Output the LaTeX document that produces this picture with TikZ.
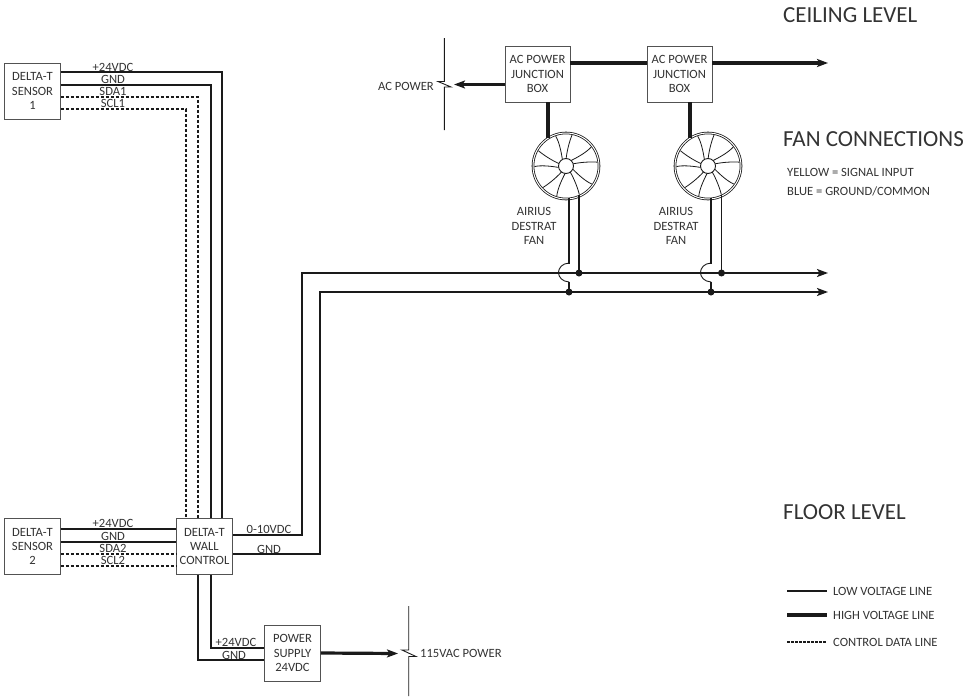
\documentclass[tikz,border=0pt]{standalone}
\usepackage{fontspec}
\setmainfont{Carlito}
\usetikzlibrary{arrows.meta,calc}
\definecolor{ink}{HTML}{1A1A1A}
\definecolor{txt}{HTML}{333333}
\tikzset{
 boxn/.style={draw=txt!85,line width=0.9pt,fill=white,minimum width=#1,minimum height=56pt,inner sep=0pt,align=center,text=txt,font=\fontsize{12.6}{14.4}\selectfont},
 lowl/.style={draw=ink,line width=1.9pt},
 highl/.style={draw=ink,line width=3.2pt},
 datal/.style={draw=ink,line width=1.9pt,dash pattern=on 3pt off 2pt},
 thinl/.style={draw=ink,line width=0.9pt},
 tip/.style={-{Stealth[length=11pt,width=8pt,inset=2.5pt]}},
 lbl/.style={inner sep=0pt,text=txt,font=\fontsize{12.6}{14.4}\selectfont,align=center},
 small/.style={inner sep=0pt,text=txt,anchor=west,font=\fontsize{12.6}{14}\selectfont},
 head/.style={inner sep=0pt,text=txt,anchor=west,font=\fontsize{23}{25}\selectfont},
 dotn/.style={circle,fill=ink,inner sep=0pt,minimum size=7pt},
 fanring/.style={circle,draw=ink,line width=0.8pt,double=white,double distance=1pt,fill=white,minimum size=66pt,inner sep=0pt},
 hubn/.style={circle,draw=ink,line width=0.9pt,fill=white,minimum size=15pt,inner sep=0pt},
}
\newcommand{\fanblades}[1]{%
 \foreach \a in {22,94,166,238,310}{%
  \draw[ink,line width=0.8pt] ($(#1)+(\a+25:7.5pt)$) .. controls ($(#1)+(\a+14:16pt)$) and ($(#1)+(\a+12:25pt)$) .. ($(#1)+(\a+15:31.5pt)$);
  \draw[ink,line width=0.8pt] ($(#1)+(\a-5:7.5pt)$) .. controls ($(#1)+(\a-8:16pt)$) and ($(#1)+(\a-12:25pt)$) .. ($(#1)+(\a-15:31.5pt)$);
 }}
\begin{document}
\begin{tikzpicture}[x=1pt,y=-1pt]
\useasboundingbox (0,0) rectangle (976,696);
% boxes
\node[boxn=56pt] (s1) at (32.5,91) {DELTA-T\\SENSOR\\1};
\node[boxn=56pt] (s2) at (32.5,546.5) {DELTA-T\\SENSOR\\2};
\node[boxn=56pt] (wall) at (204.5,546.5) {DELTA-T\\WALL\\CONTROL};
\node[boxn=56pt] (psu) at (292.5,653) {POWER\\SUPPLY\\24VDC};
\node[boxn=65pt] (jb1) at (537.5,74) {AC POWER\\JUNCTION\\BOX};
\node[boxn=65pt] (jb2) at (679.5,74) {AC POWER\\JUNCTION\\BOX};
% fans
\node[fanring] (f1) at (566,166) {};
\fanblades{f1}
\node[hubn] (h1) at (f1) {};
\node[fanring] (f2) at (708,166) {};
\fanblades{f2}
\node[hubn] (h2) at (f2) {};
% free ends
\coordinate (e1) at (828,63);
\coordinate (e2) at (828,273);
\coordinate (e3) at (828,292);
\coordinate (acbr) at (454,84.5);
\coordinate (psbr) at (398,653.5);
\coordinate (d1a) at (579,273);
\coordinate (d1b) at (569,292);
\coordinate (d2a) at (721.5,273);
\coordinate (d2b) at (711,292);
% sensor 1 runs
\draw[lowl] (s1.east|-0,72) -| (wall.north-|222,0);
\draw[lowl] (s1.east|-0,85) -| (wall.north-|211,0);
\draw[datal] (s1.east|-0,97) -| (wall.north-|198,0);
\draw[datal] (s1.east|-0,109) -| (wall.north-|186,0);
% sensor 2 runs
\draw[lowl] (s2.east|-0,529) -- (wall.west|-0,529);
\draw[lowl] (s2.east|-0,542) -- (wall.west|-0,542);
\draw[datal] (s2.east|-0,554) -- (wall.west|-0,554);
\draw[datal] (s2.east|-0,566) -- (wall.west|-0,566);
% signal buses
\draw[lowl,tip] (wall.east|-0,535) -| (302,273) -- (e2);
\draw[lowl,tip] (wall.east|-0,554) -| (320,292) -- (e3);
% power supply
\draw[lowl] (wall.south-|198,0) |- (psu.west|-0,660);
\draw[lowl] (wall.south-|211,0) |- (psu.west|-0,648);
\draw[highl,tip] (psu.east) -- (psbr);
% AC
\draw[highl] (jb1.east|-0,63) -- (jb2.west|-0,63);
\draw[highl,tip] (jb2.east|-0,63) -- (e1);
\draw[highl,tip] (jb1.west|-0,84.5) -- (acbr);
\draw[highl] (jb1.south-|548,0) -- (548,138);
\draw[highl] (jb2.south-|690,0) -- (690,138);
% fan to bus
\draw[lowl] (569,198) -- (569,263.5);
\draw[thinl] (569,263) .. controls (555,264) and (555,281) .. (569,282);
\draw[lowl] (569,281.5) -- (d1b);
\draw[lowl] (579,195) -- (d1a);
\draw[lowl] (711,198) -- (711,263.5);
\draw[thinl] (711,263) .. controls (697,264) and (697,281) .. (711,282);
\draw[lowl] (711,281.5) -- (d2b);
\draw[lowl] (721.5,195) -- (d2a);
\node[dotn] (k1) at (d1a) {};
\node[dotn] (k2) at (d1b) {};
\node[dotn] (k3) at (d2a) {};
\node[dotn] (k4) at (d2b) {};
% break symbols
\draw[thinl] (444.3,38) -- (444.3,81.5) -- (438,81.5) -- (451,87) -- (444.3,87) -- (444.3,130);
\draw[thinl] (408.7,606) -- (408.7,650) -- (402,650) -- (416,656.5) -- (408.7,656.5) -- (408.7,696);
% line labels
\node[lbl] (t1) at (113,67) {+24VDC};
\node[lbl] (t2) at (113,79) {GND};
\node[lbl] (t3) at (113,91) {SDA1};
\node[lbl] (t4) at (113,103) {SCL1};
\node[lbl] (t5) at (113,523) {+24VDC};
\node[lbl] (t6) at (113,536) {GND};
\node[lbl] (t7) at (113,548) {SDA2};
\node[lbl] (t8) at (113,560) {SCL2};
\node[lbl] (t9) at (269,529) {0-10VDC};
\node[lbl] (t10) at (269,549) {GND};
\node[lbl] (t11) at (236,642) {+24VDC};
\node[lbl] (t12) at (234,655) {GND};
\node[lbl,anchor=east] (t13) at (434,86) {AC POWER};
\node[lbl,anchor=west] (t14) at (420,653.5) {115VAC POWER};
\node[lbl] (a1) at (534,226) {AIRIUS\\DESTRAT\\FAN};
\node[lbl] (a2) at (676,226) {AIRIUS\\DESTRAT\\FAN};
% headings
\node[head] (h3) at (783,15) {CEILING LEVEL};
\node[head] (h4) at (783,139) {FAN CONNECTIONS};
\node[head] (h5) at (783,512) {FLOOR LEVEL};
\node[small] (n1) at (787,172) {YELLOW = SIGNAL INPUT};
\node[small] (n2) at (787,191) {BLUE = GROUND/COMMON};
% legend
\node[small] (l1) at (833,591) {LOW VOLTAGE LINE};
\node[small] (l2) at (833,615) {HIGH VOLTAGE LINE};
\node[small] (l3) at (833,642) {CONTROL DATA LINE};
\coordinate (m1) at (787,591);
\coordinate (m2) at (787,615);
\coordinate (m3) at (787,642);
\draw[lowl] (m1) -- (l1.west-|827,0);
\draw[highl] (m2) -- (l2.west-|827,0);
\draw[datal,line width=1.5pt,dash pattern=on 2.5pt off 1.5pt] (m3) -- (l3.west-|827,0);
\end{tikzpicture}
\end{document}
